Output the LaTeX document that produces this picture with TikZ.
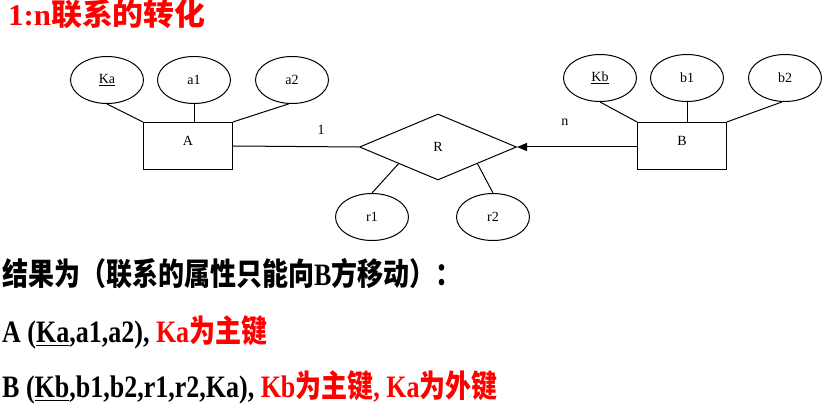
\documentclass[tikz,border=0pt]{standalone}
\usepackage{fontspec}
\setmainfont{Liberation Serif}
\newfontfamily\cjk{Noto Sans CJK SC}
\newcommand{\zh}[1]{{\cjk #1}}
\newcommand{\tall}[1]{\scalebox{1}[1.2]{#1}}
\usetikzlibrary{shapes.geometric,arrows.meta}
\definecolor{keyred}{RGB}{255,0,0}

\begin{document}
\begin{tikzpicture}[x=1pt,y=-1pt]

%
% Styles
%
\tikzstyle{attrib}   = [ellipse,draw,line width=1pt,minimum width=73pt,minimum height=47pt,inner sep=0pt,font=\fontsize{14}{16}\selectfont]
\tikzstyle{entity}   = [rectangle,draw,line width=1.2pt,minimum width=89pt,minimum height=47pt,text depth=10pt,font=\fontsize{14}{16}\selectfont]
\tikzstyle{relation} = [diamond,draw,line width=1pt,minimum width=157pt,minimum height=66pt,inner sep=0pt,font=\fontsize{14}{16}\selectfont]
\tikzstyle{edge}     = [line width=1pt]
\tikzstyle{card}     = [font=\fontsize{14}{16}\selectfont]
\tikzstyle{heading}  = [anchor=base west,inner sep=0pt,text=keyred,font=\bfseries\fontsize{30}{34}\selectfont]
\tikzstyle{textline} = [anchor=base west,inner sep=0pt,font=\bfseries\fontsize{26}{30}\selectfont]

\useasboundingbox (0,0) rectangle (836,419);

\node[heading] (title) at (8,26) {\scalebox{1.03}[1]{1:n\zh{联系的转化}}};

% entity A
\node[attrib] (ka) at (107,80) {\underline{Ka}};
\node[attrib] (a1) at (194,80) {a1};
\node[attrib] (a2) at (292,80) {a2};
\node[entity] (A)  at (188,146) {A};

% relationship R
\node[relation] (R)  at (438,147) {R};
\node[attrib]   (r1) at (372,217) {r1};
\node[attrib]   (r2) at (493,217) {r2};

% entity B
\node[attrib] (kb) at (600,78) {\underline{Kb}};
\node[attrib] (b1) at (687,78) {b1};
\node[attrib] (b2) at (785,78) {b2};
\node[entity] (B)  at (682,146) {B};

\draw[edge] (ka.south) -- (A.north west);
\draw[edge] (a1.south) -- (a1.south |- A.north);
\draw[edge] (a2.262)   -- (A.north east);
\draw[edge] (kb.south) -- (B.north west);
\draw[edge] (b1.south) -- (b1.south |- B.north);
\draw[edge] (b2.263)   -- (B.north east);
\draw[edge] (r1.north) -- (R.south west);
\draw[edge] (r2.north) -- (R.south east);

\draw[edge] (A.east) -- node[card,pos=0.7,above=8pt] {1} (R.west);
\draw[edge,-{Triangle[length=10pt,width=8pt]}] (R.east -| B.west) -- node[card,pos=0.6,above=18pt] {n} (R.east);

% relational schema
\node[textline] (res)  at (2,286) {\tall{\zh{结果为（联系的属性只能向}B\zh{方移动）：}}};
\node[textline] (relA) at (2,343) {\tall{A (\underline{Ka},a1,a2), \textcolor{keyred}{Ka\zh{为主键}}}};
\node[textline] (relB) at (2,398) {\tall{B (\underline{Kb},b1,b2,r1,r2,Ka), \textcolor{keyred}{Kb\zh{为主键}, Ka\zh{为外键}}}};

\end{tikzpicture}
\end{document}
